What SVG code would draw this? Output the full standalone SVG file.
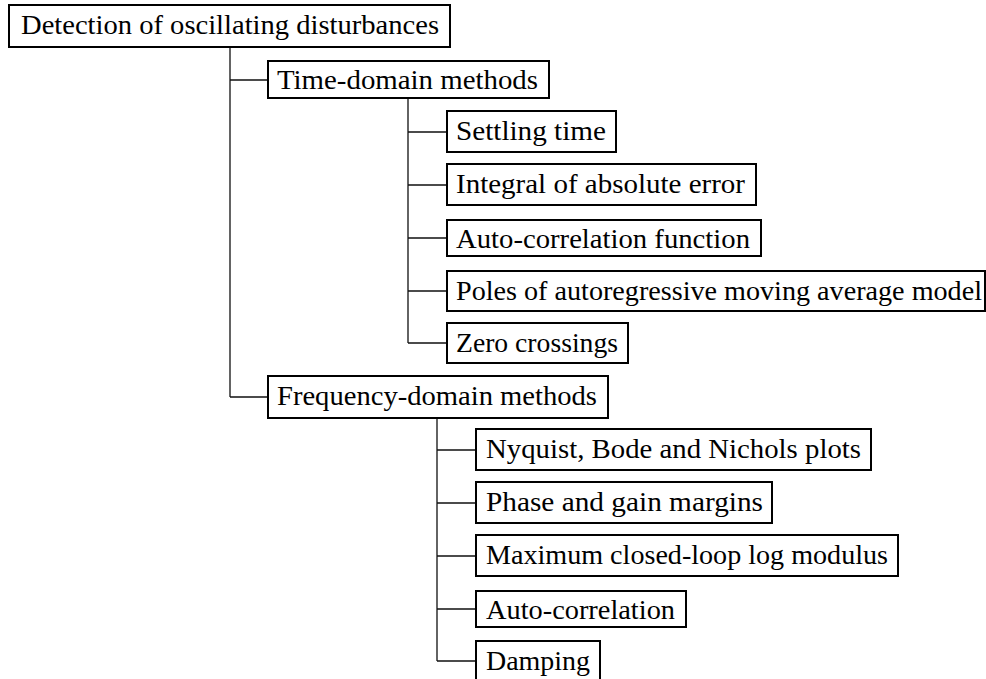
<svg xmlns="http://www.w3.org/2000/svg" width="986" height="679" viewBox="0 0 986 679">
  <style>
    .box { fill: #ffffff; stroke: #000000; stroke-width: 2; }
    .lbl { font-family: "Liberation Serif", "Times New Roman", serif; font-size: 26.5px; fill: #000000; }
    .edge { fill: none; stroke: #111111; stroke-width: 1.3; }
  </style>
  <rect width="986" height="679" fill="#ffffff"/>

  <!-- folder-style tree connectors -->
  <g id="connectors">
    <path class="edge" d="M230 47 V397 M230 80 H268 M230 397 H268"/>
    <path class="edge" d="M408 98 V343 M408 132 H447 M408 185 H447 M408 238 H447 M408 291 H447 M408 343 H447"/>
    <path class="edge" d="M437 418 V661 M437 450 H476 M437 503 H476 M437 556 H476 M437 609 H476 M437 661 H476"/>
  </g>

  <g id="root">
    <rect class="box" x="9" y="5" width="441" height="42"/>
    <text class="lbl" x="21" y="33.5" textLength="418" lengthAdjust="spacingAndGlyphs">Detection of oscillating disturbances</text>
  </g>

  <g id="time-domain">
    <rect class="box" x="268" y="61" width="281" height="37"/>
    <text class="lbl" x="277" y="89" textLength="261" lengthAdjust="spacingAndGlyphs">Time-domain methods</text>
  </g>
  <g id="settling-time">
    <rect class="box" x="447" y="111" width="169" height="41"/>
    <text class="lbl" x="456" y="139.5" textLength="150" lengthAdjust="spacingAndGlyphs">Settling time</text>
  </g>
  <g id="integral-abs-error">
    <rect class="box" x="447" y="164" width="309" height="41"/>
    <text class="lbl" x="456" y="192.5" textLength="289" lengthAdjust="spacingAndGlyphs">Integral of absolute error</text>
  </g>
  <g id="autocorrelation-function">
    <rect class="box" x="447" y="220" width="314" height="36"/>
    <text class="lbl" x="456" y="247.5" textLength="294" lengthAdjust="spacingAndGlyphs">Auto-correlation function</text>
  </g>
  <g id="arma-poles">
    <rect class="box" x="447" y="271" width="538" height="40"/>
    <text class="lbl" x="456" y="299.5" textLength="526" lengthAdjust="spacingAndGlyphs">Poles of autoregressive moving average model</text>
  </g>
  <g id="zero-crossings">
    <rect class="box" x="447" y="323" width="181" height="40"/>
    <text class="lbl" x="456" y="351.5" textLength="162" lengthAdjust="spacingAndGlyphs">Zero crossings</text>
  </g>

  <g id="frequency-domain">
    <rect class="box" x="268" y="376" width="340" height="42"/>
    <text class="lbl" x="277" y="404.5" textLength="320" lengthAdjust="spacingAndGlyphs">Frequency-domain methods</text>
  </g>
  <g id="nyquist-bode-nichols">
    <rect class="box" x="476" y="429" width="395" height="41"/>
    <text class="lbl" x="486" y="457.5" textLength="375" lengthAdjust="spacingAndGlyphs">Nyquist, Bode and Nichols plots</text>
  </g>
  <g id="phase-gain-margins">
    <rect class="box" x="476" y="482" width="296" height="41"/>
    <text class="lbl" x="486" y="510.5" textLength="277" lengthAdjust="spacingAndGlyphs">Phase and gain margins</text>
  </g>
  <g id="max-log-modulus">
    <rect class="box" x="476" y="535" width="422" height="41"/>
    <text class="lbl" x="486" y="563.5" textLength="402" lengthAdjust="spacingAndGlyphs">Maximum closed-loop log modulus</text>
  </g>
  <g id="autocorrelation">
    <rect class="box" x="476" y="591" width="210" height="36"/>
    <text class="lbl" x="486" y="618.5" textLength="189" lengthAdjust="spacingAndGlyphs">Auto-correlation</text>
  </g>
  <g id="damping">
    <rect class="box" x="476" y="641" width="124" height="41"/>
    <text class="lbl" x="486" y="669.5" textLength="104" lengthAdjust="spacingAndGlyphs">Damping</text>
  </g>
</svg>
